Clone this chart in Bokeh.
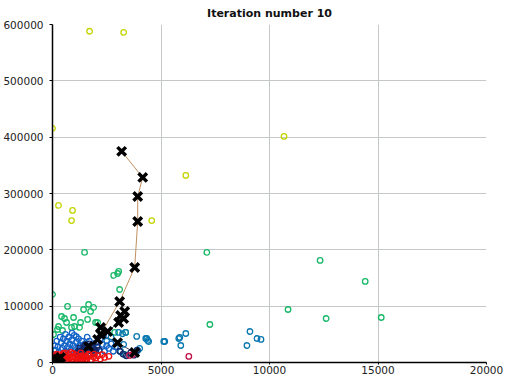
from bokeh.plotting import figure
from bokeh.embed import file_html
from bokeh.resources import INLINE
from bokeh.models import FixedTicker, BasicTickFormatter, Range1d

title_text = "Iteration number 10"
x_ticks = [0, 5000, 10000, 15000, 20000]
y_ticks = [0, 100000, 200000, 300000, 400000, 500000, 600000]

yellow_x = [1709, 3280, 0, 10670, 6143, 277, 924, 878, 4573]
yellow_y = [588000, 586000, 415600, 401400, 332000, 278800, 270000, 252000, 252000]

green_x = [1478, 7113, 12333, 14411, 10855, 12610, 15150, 7252, 0, 2818, 3002, 3049, 3095,
           693, 416, 554, 970, 1432, 1663, 1894, 1755, 1617, 1986, 1016, 878, 1247, 277,
           231, 46, 2079, 2217, 2864, 3372, 1293, 647, 462]
green_y = [195400, 195400, 181200, 143900, 94100, 78100, 79900, 67500, 120800, 154500, 158000,
           161600, 129600, 99500, 81700, 78100, 79900, 94100, 103000, 97700, 90600, 76400,
           71000, 63900, 62200, 62200, 63900, 58600, 49700, 71000, 58600, 53300, 53300,
           71000, 71000, 56800]

teal_x = [6143, 5912, 9100, 8961, 9423, 9608, 3880, 4342, 4388, 5127, 5866, 3372, 3049,
          3230, 4296, 4434, 5173, 5820, 3280, 3141, 3326, 3926, 4019, 2700, 2500]
teal_y = [51500, 30200, 55000, 30200, 42600, 40900, 46200, 42600, 39100, 37300, 44400,
          53300, 53300, 51000, 42600, 37300, 37300, 42600, 32000, 19500, 14200, 21300,
          24900, 45000, 38000]

blue_x = [150, 250, 300, 400, 450, 500, 550, 600, 650, 700, 750, 800, 850, 900, 950, 1000,
          1050, 1100, 1150, 1200, 1250, 1300, 1350, 1400, 1450, 1500, 1600, 1700, 1800, 1900,
          2000, 2100, 2200, 2300, 2400, 2500, 2600, 350, 200, 120, 600, 900, 1100, 700, 1250,
          1600, 2700, 2800, 2900, 2350]
blue_y = [22000, 28000, 18000, 35000, 25000, 42000, 30000, 20000, 38000, 27000, 45000, 33000,
          22000, 40000, 30000, 48000, 25000, 36000, 20000, 42000, 31000, 24000, 38000, 28000,
          18000, 33000, 25000, 38000, 30000, 22000, 35000, 27000, 42000, 32000, 20000, 30000,
          25000, 45000, 38000, 30000, 50000, 52000, 46000, 16000, 15000, 45000, 33000, 20000,
          28000, 48000]

navy_x = [1300, 1400, 1500, 1550, 1600, 1650, 1700, 1750, 1800, 1850, 1900, 1950, 2000, 1450,
          1350, 1200, 1100, 1250, 2050, 2150, 1700, 1500, 3400, 3600, 3900, 3750, 3100, 3250]
navy_y = [18000, 22000, 25000, 20000, 28000, 16000, 24000, 30000, 20000, 26000, 17000, 23000,
          19000, 27000, 14000, 20000, 16000, 26000, 28000, 22000, 33000, 31000, 12000, 17000,
          22000, 13000, 20000, 15000]

red_x = [50, 100, 150, 200, 250, 300, 350, 400, 450, 500, 550, 600, 650, 700, 750, 800, 850,
         900, 950, 1000, 1050, 1100, 1150, 1200, 1250, 1300, 1350, 1400, 1450, 1500, 1550,
         1600, 1700, 1800, 1900, 2000, 2100, 2200, 1750, 1650, 2400, 120, 300, 500, 2600, 80,
         400, 700, 1100, 1400, 950, 180, 1300, 1900, 2300, 850, 600]
red_y = [2000, 5000, 8000, 3000, 11000, 6000, 1000, 9000, 4000, 12000, 7000, 2000, 10000,
         5000, 14000, 8000, 3000, 11000, 6000, 1500, 9000, 13000, 4000, 7000, 10000, 2500,
         12000, 6000, 9000, 3500, 11000, 7000, 13000, 5000, 10000, 8000, 12000, 6000, 2000,
         15000, 9000, 12000, 14000, 16000, 11000, 9000, 500, 500, 800, 1000, 16000, 15000,
         17000, 15000, 14000, 18000, 17000]

crimson_x = [6282, 3695, 3550]
crimson_y = [10700, 14200, 12500]

# centroid trails (successive positions over the iterations)
trail_yellow_x = [2079, 3095, 3788, 3926, 3926, 4157, 3187]
trail_yellow_y = [40900, 108300, 168700, 250400, 294800, 328600, 374800]
trail_green_x = [2217, 2540, 3048, 3280, 3141, 3326]
trail_green_y = [62200, 55100, 71000, 78200, 83500, 90600]
trail_navy_x = [1663, 2217, 3000, 3788]
trail_navy_y = [28400, 50000, 35000, 17800]
trail_red_x = [139, 370, 250]
trail_red_y = [3600, 9000, 6000]

p = figure(frame_width=434, frame_height=338, output_backend="svg", toolbar_location=None,
           x_range=Range1d(0, 20000), y_range=Range1d(0, 600000),
           min_border_left=0, min_border_right=24, min_border_top=0, min_border_bottom=0)
p.title.text = title_text
p.title.align = "center"
p.title.text_font = "DejaVu Sans"
p.title.text_font_size = "11px"
p.title.text_font_style = "bold"
p.title.text_color = "#111111"
p.title.standoff = 9
p.title.offset = 0
p.outline_line_color = None
p.background_fill_color = "white"

for ax in (p.xaxis[0], p.yaxis[0]):
    ax.axis_line_color = "#000000"
    ax.axis_line_width = 1.5
    ax.major_tick_in = 0
    ax.major_tick_out = 3
    ax.minor_tick_line_color = None
    ax.major_label_text_font = "DejaVu Sans"
    ax.major_label_text_font_size = "10.5px"
    ax.major_label_text_color = "#222222"
    ax.formatter = BasicTickFormatter(use_scientific=False)
p.xaxis.ticker = FixedTicker(ticks=x_ticks)
p.yaxis.ticker = FixedTicker(ticks=y_ticks)
p.xaxis.major_label_standoff = 1
p.yaxis.major_label_standoff = 6
p.xaxis.major_tick_out = 2
p.grid.grid_line_color = "#c4c8c8"
p.grid.grid_line_width = 1

p.line(trail_yellow_x, trail_yellow_y, line_color="#c09060", line_width=1)
p.line(trail_green_x, trail_green_y, line_color="#406050", line_width=1)
p.line(trail_navy_x, trail_navy_y, line_color="#404060", line_width=1)
p.line(trail_red_x, trail_red_y, line_color="#a02020", line_width=1)

def pts(xs, ys, color):
    p.scatter(xs, ys, marker="circle", size=5.5, fill_color=None, line_color=color, line_width=1.3)

pts(yellow_x, yellow_y, "#c4d400")
pts(green_x, green_y, "#18b868")
pts(teal_x, teal_y, "#0a78b0")
pts(blue_x, blue_y, "#1464c8")
pts(navy_x, navy_y, "#142868")
pts(red_x, red_y, "#ee1010")
pts(crimson_x, crimson_y, "#c01048")

cx = trail_yellow_x + trail_green_x + trail_navy_x + trail_red_x
cy = trail_yellow_y + trail_green_y + trail_navy_y + trail_red_y
p.scatter(cx, cy, marker="x", size=12, line_color="#000000", line_width=3.5)

open("out.html", "w").write(file_html(p, INLINE))
